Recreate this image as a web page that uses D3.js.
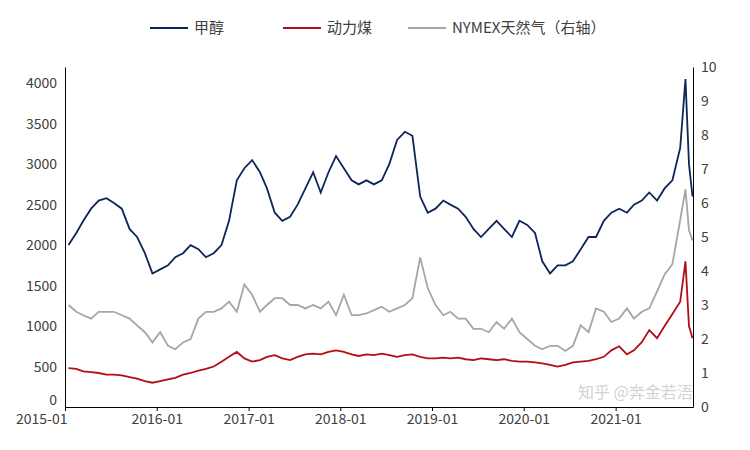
<!DOCTYPE html>
<html><head><meta charset="utf-8">
<script src="https://cdn.jsdelivr.net/npm/d3@7"></script>
<style>body{margin:0;background:#fff}text{font-family:"Noto Sans CJK SC","Noto Sans",sans-serif}</style>
</head><body><svg id="c" width="750" height="450"></svg>
<script>
const seriesNames=["甲醇","动力煤","NYMEX天然气（右轴）"];
const colors=["#0d2559","#b40d14","#a6a6a6"];
const tailDates=["2021-09-15","2021-10-06","2021-10-20","2021-11-03"];
const methanol=[2000,2150,2300,2450,2550,2580,2520,2450,2200,2100,1900,1650,
1700,1750,1850,1900,2000,1950,1850,1900,2000,2300,2800,2950,
3050,2900,2700,2400,2300,2350,2500,2700,2900,2650,2900,3100,
2950,2800,2750,2800,2750,2800,3000,3300,3400,3350,2600,2400,
2450,2550,2500,2450,2350,2200,2100,2200,2300,2200,2100,2300,
2250,2150,1800,1650,1750,1750,1800,1950,2100,2100,2300,2400,
2450,2400,2500,2550,2650,2550,2700,2800,
3200,4050,3000,2600];
const coal=[480,470,440,430,420,400,400,390,370,350,320,300,
320,340,360,400,420,450,470,500,560,620,680,600,
560,580,620,640,600,580,620,650,660,650,680,700,
680,650,630,650,640,660,640,620,640,650,620,600,
600,610,600,610,590,580,600,590,580,590,570,560,
560,550,540,520,500,520,550,560,570,590,620,700,
750,650,700,800,950,850,1000,1150,
1300,1800,1000,850];
const gas=[3.0,2.8,2.7,2.6,2.8,2.8,2.8,2.7,2.6,2.4,2.2,1.9,
2.2,1.8,1.7,1.9,2.0,2.6,2.8,2.8,2.9,3.1,2.8,3.6,
3.3,2.8,3.0,3.2,3.2,3.0,3.0,2.9,3.0,2.9,3.1,2.7,
3.3,2.7,2.7,2.75,2.85,2.95,2.8,2.9,3.0,3.2,4.4,3.5,
3.0,2.7,2.8,2.6,2.6,2.3,2.3,2.2,2.5,2.3,2.6,2.2,
2.0,1.8,1.7,1.8,1.8,1.65,1.8,2.4,2.2,2.9,2.8,2.5,
2.6,2.9,2.6,2.8,2.9,3.4,3.9,4.2,
5.5,6.4,5.2,4.9];
const leftTicks=[0,500,1000,1500,2000,2500,3000,3500,4000];
const rightTicks=[0,1,2,3,4,5,6,7,8,9,10];

const dates=d3.range(80).map(i=>new Date(2015,i,15)).concat(tailDates.map(d=>new Date(d)));
const svg=d3.select("#c");
const L=65,R=693,T=67,B=407;
const x=d3.scaleTime().domain([new Date(2015,0,1),new Date(2021,10,5)]).range([L,R]);
const yL=d3.scaleLinear().domain([0,4200]).range([B,T]);
const yR=d3.scaleLinear().domain([0,10]).range([B,T]);
const ax=g=>g.selectAll("text").attr("fill","#404040").style("font-size","14px");
svg.append("g").attr("transform",`translate(${L},0)`).call(d3.axisLeft(yL).tickValues(leftTicks).tickFormat(d3.format("d")).tickSize(0).tickPadding(8)).call(ax)
 .call(g=>g.selectAll(".tick text").filter(d=>d===0).attr("dy","-0.2em"))
 .select(".domain").attr("stroke","#000");
svg.append("g").attr("transform",`translate(${R},0)`).call(d3.axisRight(yR).tickValues(rightTicks).tickFormat(d3.format("d")).tickSize(0).tickPadding(8)).call(ax).select(".domain").attr("stroke","#000");
svg.append("g").attr("transform",`translate(0,${B})`).call(d3.axisBottom(x).ticks(d3.timeYear.every(1)).tickFormat(d3.timeFormat("%Y-%m")).tickSize(4).tickSizeOuter(0)).call(ax)
 .call(g=>g.selectAll(".tick text").filter((d,i)=>i===0).attr("text-anchor","end").attr("x",2))
 .call(g=>g.select(".domain").attr("stroke","#000"));

const lines=[[gas,yR],[coal,yL],[methanol,yL]];
const cidx=[2,1,0];
lines.forEach(([vals,sc],k)=>{
 svg.append("path").datum(vals).attr("fill","none").attr("stroke",colors[cidx[k]]).attr("stroke-width",1.8)
 .attr("d",d3.line().x((d,i)=>x(dates[i])).y(d=>sc(d)));
});
const lx=[150,283,408];
seriesNames.forEach((n,i)=>{
 svg.append("line").attr("x1",lx[i]).attr("x2",lx[i]+38).attr("y1",28).attr("y2",28).attr("stroke",colors[i]).attr("stroke-width",2);
 svg.append("text").attr("x",lx[i]+44).attr("y",33).attr("fill","#404040").style("font-size","15px").text(n);
});
svg.append("text").attr("x",578).attr("y",398).attr("fill","#c8c8c8").attr("opacity",0.8).style("font-size","16px").text("知乎 @奔金若浯");
</script></body></html>
